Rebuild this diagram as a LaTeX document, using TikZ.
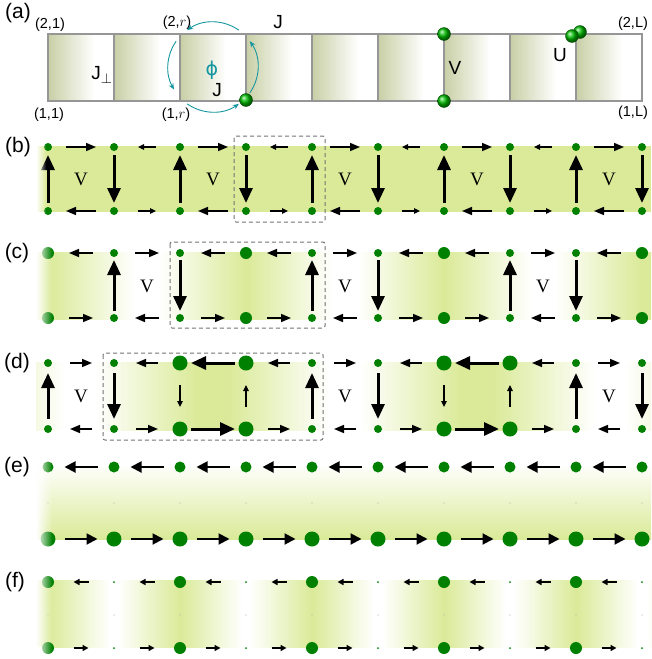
\documentclass[tikz,border=0pt]{standalone}
\usepackage{fontspec}
\setmainfont{Liberation Sans}
\newfontfamily\vfont{Liberation Serif}
\newfontfamily\phfont{DejaVu Sans}
\usetikzlibrary{arrows.meta,fadings}
\definecolor{dotg}{RGB}{0,128,0}
\definecolor{band}{RGB}{218,234,152}
\definecolor{cellc}{RGB}{200,207,165}
\definecolor{tealc}{RGB}{20,150,160}
\definecolor{edg}{RGB}{150,150,150}

\begin{document}
\begin{tikzpicture}[x=1pt, y=-1pt,
  gd/.style={circle, fill=dotg, inner sep=0pt, minimum size=#1}, gd/.default=8pt,
  md/.style={circle, fill=gray!60, inner sep=0pt, minimum size=1.2pt},
  ball/.style={circle, inner sep=0pt, minimum size=13pt, shading=ball, ball color=green!75!black, draw=green!25!black, line width=.3pt},
  thn/.style={line width=1.1pt, -{Triangle[length=6pt,width=5.5pt]}},
  med/.style={line width=1.6pt, -{Triangle[length=10pt,width=8pt]}},
  mde/.style={line width=2pt, -{Triangle[length=11pt,width=11pt]}},
  thk/.style={line width=3pt, -{Triangle[length=15pt,width=13pt]}},
  sml/.style={line width=1.8pt, -{Triangle[length=6pt,width=6pt]}},
  sn/.style={shorten <=#1, shorten >=#1},
  lbl/.style={font=\fontsize{21}{21}\selectfont},
  crn/.style={font=\fontsize{14.5}{15}\selectfont},
  bigl/.style={font=\fontsize{19}{19}\selectfont},
  vv/.style={font=\vfont\fontsize{19}{19}\selectfont},
  dbx/.style={draw=gray!90!black, line width=1pt, rounded corners=2pt, dash pattern=on 4pt off 3pt},
  fd/.style={white, path fading=east}]
\useasboundingbox (0,0) rectangle (651,659);

\foreach \i in {0,...,8} {
  \shade[left color=cellc, right color=white] (48+66*\i,34) rectangle +(46,67);
  \fill[white] (94+66*\i,34) rectangle +(20,67);
}
\draw[edg, line width=1.5pt] (48,34) rectangle (642,101);
\foreach \i in {1,...,8}
  \draw[edg, line width=1.5pt] (48+66*\i,34) -- (48+66*\i,101);
\coordinate (pc) at (213,67);
\foreach \a/\b in {-55/-125,-145/-210,-235/-305,-325/-395}
  \draw[tealc, line width=.9pt, -{Stealth[length=6pt,width=5pt]}] ([shift={(\a:45)}]pc) arc[start angle=\a, end angle=\b, radius=45];
\node[lbl] (la) at (18,13) {(a)};
\node[crn] (c21) at (50,25) {(2,1)};
\node[crn] (c11) at (49,115) {(1,1)};
\node[crn] (c2r) at (177,23) {(2,$r$)};
\node[crn] (c1r) at (176,115) {(1,$r$)};
\node[crn] (c2L) at (633,24) {(2,L)};
\node[crn] (c1L) at (633,113) {(1,L)};
\node[bigl] (jt) at (278,22) {J};
\node[bigl] (jp) at (102,75) {J$_\perp$};
\node[bigl, tealc] (ph) at (212,70) {\phfont ϕ};
\node[bigl] (jb) at (217,90) {J};
\node[bigl] (vl) at (455,68) {V};
\node[bigl] (ul) at (560,55) {U};
\node[ball] (s1) at (246,100) {};
\node[ball] (s2) at (444,34) {};
\node[ball] (s3) at (444,101) {};
\node[ball] (s5) at (580,32) {};
\node[ball] (s4) at (572,36) {};

\fill[band] (36,146) rectangle (651,212);
\foreach \k in {0,...,9} {
  \node[gd] (bt\k) at (48+66*\k,147) {};
  \node[gd] (bb\k) at (48+66*\k,211) {};
}
\foreach \k in {0,...,8} {
  \pgfmathtruncatemacro\j{\k+1}
  \ifodd\k
    \draw[thn, sn=24pt] (bt\j.center) -- (bt\k.center);
    \draw[thn, sn=24pt] (bb\k.center) -- (bb\j.center);
  \else
    \draw[med, sn=18pt] (bt\k.center) -- (bt\j.center);
    \draw[med, sn=18pt] (bb\j.center) -- (bb\k.center);
  \fi
}
\foreach \k in {0,...,9} {
  \ifodd\k \draw[thk, sn=8pt] (bt\k.center) -- (bb\k.center);
  \else \draw[thk, sn=8pt] (bb\k.center) -- (bt\k.center); \fi
}
\foreach \k in {0,2,4,6,8} \node[vv] (bv\k) at (81+66*\k,179) {V};
\draw[dbx] (234,136) rectangle (325,222);
\fill[fd] (36,140) rectangle (46,218);
\node[lbl] (lb) at (18,147) {(b)};

\foreach \xa/\xb/\ca/\cb in {36/48/band/band, 48/135/band/white, 159/246/white/band, 246/333/band/white, 357/444/white/band, 444/531/band/white, 555/642/white/band, 642/651/band/band}
  \shade[left color=\ca, right color=\cb] (\xa,252) rectangle (\xb,319);
\foreach \k in {0,...,9} {
  \pgfmathtruncatemacro\mm{mod(\k,3)}
  \ifnum\mm=0 \def\dsz{12pt}\else\def\dsz{8pt}\fi
  \node[gd=\dsz] (ct\k) at (48+66*\k,253) {};
  \node[gd=\dsz] (cb\k) at (48+66*\k,318) {};
}
\foreach \k in {0,...,8} {
  \pgfmathtruncatemacro\j{\k+1}
  \pgfmathtruncatemacro\mm{mod(\k,3)}
  \ifnum\mm=1
    \draw[med, sn=21pt] (ct\k.center) -- (ct\j.center);
    \draw[med, sn=21pt] (cb\j.center) -- (cb\k.center);
  \else
    \draw[med, sn=21pt] (ct\j.center) -- (ct\k.center);
    \draw[med, sn=21pt] (cb\k.center) -- (cb\j.center);
  \fi
}
\foreach \k in {1,4,7} \draw[thk, sn=7pt] (cb\k.center) -- (ct\k.center);
\foreach \k in {2,5,8} \draw[thk, sn=7pt] (ct\k.center) -- (cb\k.center);
\foreach \k in {1,4,7} \node[vv] (cv\k) at (81+66*\k,286) {V};
\draw[dbx] (170,242) rectangle (325,328);
\fill[fd] (36,245) rectangle (52,326);
\node[lbl] (lc) at (17,253) {(c)};

\foreach \xa/\xb/\ca/\cb in {36/65/band!28!white/white, 95/198/white/band, 198/228/band/band, 228/330/band/white, 360/462/white/band, 462/492/band/band, 492/595/band/white, 625/651/white/band!25!white}
  \shade[left color=\ca, right color=\cb] (\xa,362) rectangle (\xb,430);
\foreach \k in {0,...,9} {
  \pgfmathtruncatemacro\mm{mod(\k,4)}
  \ifnum\mm>1 \def\dsz{15pt}\else\def\dsz{8pt}\fi
  \node[gd=\dsz] (dt\k) at (48+66*\k,363) {};
  \node[gd=\dsz] (db\k) at (48+66*\k,429) {};
}
\foreach \k in {0,...,8} {
  \pgfmathtruncatemacro\j{\k+1}
  \pgfmathtruncatemacro\mm{mod(\k,4)}
  \ifcase\mm
    \draw[med, sn=22pt] (dt\k.center) -- (dt\j.center);
    \draw[med, sn=22pt] (db\j.center) -- (db\k.center);
  \or
    \draw[med, sn=22pt] (dt\j.center) -- (dt\k.center);
    \draw[med, sn=22pt] (db\k.center) -- (db\j.center);
  \or
    \draw[thk, sn=11pt] (dt\j.center) -- (dt\k.center);
    \draw[thk, sn=11pt] (db\k.center) -- (db\j.center);
  \or
    \draw[med, sn=22pt] (dt\j.center) -- (dt\k.center);
    \draw[med, sn=22pt] (db\k.center) -- (db\j.center);
  \fi
}
\foreach \k in {0,4,8} \draw[thk, sn=10pt] (db\k.center) -- (dt\k.center);
\foreach \k in {1,5,9} \draw[thk, sn=10pt] (dt\k.center) -- (db\k.center);
\foreach \k in {2,6} \draw[thn, sn=22pt] (dt\k.center) -- (db\k.center);
\foreach \k in {3,7} \draw[thn, sn=22pt] (db\k.center) -- (dt\k.center);
\foreach \k in {0,4,8} \node[vv] (dv\k) at (81+66*\k,396) {V};
\draw[dbx] (103,353) rectangle (323,440);
\node[lbl] (ld) at (17,363) {(d)};

\shade[top color=band!6!white, bottom color=band] (36,467) rectangle (651,539);
\foreach \k in {0,...,9} {
  \node[gd=11pt] (et\k) at (48+66*\k,467) {};
  \node[md] (em\k) at (48+66*\k,503) {};
  \node[gd=15pt] (eb\k) at (48+66*\k,539) {};
}
\foreach \k in {0,...,8} {
  \pgfmathtruncatemacro\j{\k+1}
  \draw[mde, sn=16.5pt] (et\j.center) -- (et\k.center);
  \draw[mde, sn=16.5pt] (eb\k.center) -- (eb\j.center);
}
\fill[fd] (36,458) rectangle (52,548);
\node[lbl] (le) at (17,467) {(e)};

\fill[band] (36,580) rectangle (48,647);
\foreach \k in {0,...,4} {
  \shade[left color=band, right color=white] (48+132*\k,580) rectangle (110+132*\k,647);
  \shade[left color=white, right color=band] (118+132*\k,580) rectangle (180+132*\k,647);
}
\foreach \k in {0,...,9} {
  \ifodd\k \def\dsz{2pt}\else\def\dsz{12pt}\fi
  \node[gd=\dsz] (ft\k) at (48+66*\k,582) {};
  \node[md] (fm\k) at (48+66*\k,615) {};
  \node[gd=\dsz] (fb\k) at (48+66*\k,648) {};
}
\foreach \k in {0,...,8} {
  \pgfmathtruncatemacro\j{\k+1}
  \draw[sml, sn=25.5pt] (ft\j.center) -- (ft\k.center);
  \draw[sml, sn=25.5pt] (fb\k.center) -- (fb\j.center);
}
\fill[fd] (36,574) rectangle (52,656);
\node[lbl] (lf) at (15,582) {(f)};
\end{tikzpicture}
\end{document}
